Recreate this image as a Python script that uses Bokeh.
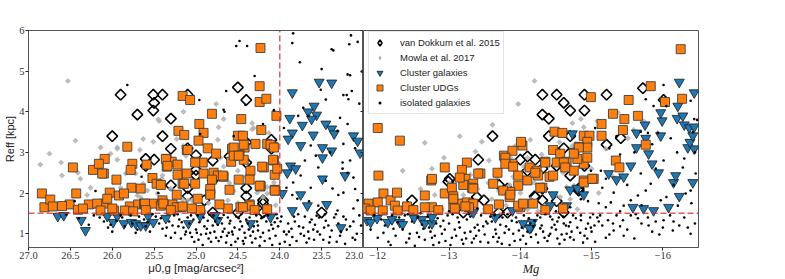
from math import pi
from bokeh.plotting import figure
from bokeh.layouts import row
from bokeh.models import (Range1d, FixedTicker, LinearAxis, Legend, LegendItem,
                          CustomJSTickFormatter, NumeralTickFormatter, Span)
from bokeh.embed import file_html
from bokeh.resources import INLINE

# ---------------- data ----------------
# (mu_0g, R_eff) for the left panel, (M_g, R_eff) for the right panel
vdk_left = [(25.90, 4.42), (25.51, 4.42), (25.40, 4.42), (25.10, 4.42), (25.50, 4.22), (25.51, 4.03),
            (25.70, 3.93), (25.30, 3.83), (24.50, 4.60), (24.40, 4.29), (26.00, 3.40), (25.40, 3.40),
            (24.10, 3.31), (24.40, 3.25), (25.30, 3.09), (24.10, 3.09), (25.10, 3.10), (25.60, 2.84),
            (25.50, 2.82), (25.60, 2.67), (25.00, 2.93), (24.60, 2.90), (24.80, 2.80), (24.40, 2.75),
            (25.00, 2.57), (25.00, 2.43), (24.80, 2.31), (25.30, 2.19), (25.10, 2.12), (24.40, 2.12),
            (25.10, 1.92), (24.40, 1.92), (24.90, 1.82), (24.20, 1.82), (24.20, 1.74), (24.80, 1.52),
            (24.50, 1.52), (24.20, 1.52), (23.50, 1.52)]
vdk_right = [(-14.31, 4.42), (-14.51, 4.42), (-14.61, 4.22), (-14.70, 4.03), (-14.90, 4.42), (-14.90, 4.03),
             (-15.21, 4.42), (-14.31, 3.93), (-14.40, 3.83), (-15.72, 4.58), (-16.01, 4.29), (-14.40, 3.40),
             (-14.70, 3.40), (-15.41, 3.35), (-13.61, 3.40), (-13.41, 2.82), (-14.00, 2.82), (-14.10, 2.90),
             (-14.21, 2.82), (-14.10, 2.55), (-14.31, 2.60), (-14.61, 3.10), (-14.51, 2.67), (-14.70, 2.43),
             (-14.90, 2.67), (-13.01, 2.35), (-13.70, 2.20), (-13.82, 2.11), (-14.31, 2.11), (-13.39, 1.90),
             (-13.49, 1.82), (-14.21, 1.90), (-14.82, 2.11), (-13.20, 1.52), (-13.70, 1.52), (-13.82, 1.52),
             (-14.51, 1.80), (-14.61, 1.52), (-12.48, 1.82), (-12.99, 2.28), (-14.82, 2.06), (-15.21, 3.19),
             (-14.31, 1.82), (-14.20, 1.92)]

mowla_left = [(26.53, 4.76), (25.15, 4.00), (25.45, 3.81), (26.44, 3.29), (25.63, 3.33), (25.51, 3.26),
              (25.67, 3.06), (25.94, 3.12), (25.94, 2.82), (25.23, 3.33), (25.15, 3.16), (25.44, 3.77),
              (24.74, 3.31), (24.43, 3.48), (24.31, 3.60), (24.76, 4.19), (24.67, 3.82), (24.73, 3.62),
              (24.33, 3.72), (24.33, 3.57), (24.13, 3.48), (25.84, 2.48), (25.40, 2.43), (24.71, 2.87),
              (24.67, 2.65), (24.50, 2.55), (24.83, 2.31), (24.07, 2.26), (24.15, 1.99), (24.27, 2.01),
              (24.62, 1.82), (24.74, 1.69), (24.95, 1.65), (25.10, 1.82), (25.66, 1.89), (26.02, 1.89),
              (26.86, 2.70), (26.75, 2.97), (26.61, 2.75), (26.60, 2.43), (26.38, 2.35), (26.41, 2.50),
              (26.26, 2.60), (26.26, 2.13), (26.14, 3.12), (26.02, 2.97), (25.94, 3.09), (25.90, 2.13),
              (25.72, 2.48), (25.70, 1.94), (25.63, 2.23), (25.58, 2.06), (25.46, 1.99), (25.41, 2.35),
              (25.30, 2.11), (25.18, 2.35), (25.16, 1.84), (25.05, 1.82), (25.12, 2.92), (24.30, 1.60),
              (24.60, 1.60), (24.90, 1.55), (25.20, 1.60), (24.20, 1.90), (24.50, 1.75), (24.80, 2.00),
              (25.00, 2.20), (24.40, 2.40), (24.60, 2.25), (24.15, 2.15), (24.35, 1.55), (24.05, 1.70),
              (24.55, 2.05), (24.85, 1.75), (25.35, 1.70), (25.55, 1.62), (25.80, 1.70), (26.10, 1.72),
              (26.30, 1.95), (24.25, 2.70), (24.95, 2.70), (24.55, 3.05)]
mowla_right = [(-13.97, 4.19), (-14.20, 4.76), (-13.61, 3.68), (-13.46, 3.26), (-13.37, 3.02), (-12.93, 2.87),
               (-13.56, 2.80), (-13.93, 3.16), (-14.14, 3.31), (-14.73, 3.72), (-15.08, 3.77), (-14.73, 3.16),
               (-12.76, 2.60), (-13.68, 2.38), (-13.86, 2.87), (-14.10, 2.87), (-14.85, 3.82), (-14.89, 3.62),
               (-15.37, 3.98), (-15.55, 4.26), (-15.73, 3.77), (-15.59, 3.55), (-15.93, 3.48), (-15.51, 3.35),
               (-15.20, 3.09), (-14.75, 2.18), (-14.56, 1.90), (-13.20, 1.95), (-13.40, 2.10), (-13.60, 1.85),
               (-13.80, 1.70), (-14.00, 2.00), (-14.20, 2.25), (-14.40, 2.40), (-14.60, 2.50), (-13.90, 2.40),
               (-13.50, 1.60), (-13.70, 2.05), (-14.10, 1.60), (-14.35, 1.70), (-14.50, 1.95), (-14.70, 1.85),
               (-14.90, 2.30), (-15.00, 2.60), (-14.30, 2.95), (-14.55, 3.25), (-13.30, 2.45), (-13.00, 2.25),
               (-12.80, 1.95), (-12.60, 2.10), (-12.45, 1.70), (-12.90, 1.60), (-13.10, 1.75), (-13.95, 1.58),
               (-14.25, 1.55), (-14.80, 1.60), (-15.10, 2.00), (-15.30, 2.40), (-14.05, 2.65), (-13.75, 2.95),
               (-13.15, 3.40), (-12.66, 3.24), (-12.35, 2.55), (-13.55, 2.25), (-14.65, 2.15), (-14.15, 1.85),
               (-13.85, 2.20)]

cluster_left = [(26.65, 1.43), (26.58, 1.45), (26.37, 1.33), (26.32, 1.08), (26.06, 1.43), (25.99, 1.28),
                (25.94, 1.43), (25.86, 1.25), (25.77, 1.28), (25.72, 1.25), (25.66, 1.20), (25.60, 1.20),
                (25.57, 1.43), (25.51, 1.28), (25.36, 1.38), (25.09, 1.25), (24.95, 1.43), (24.74, 1.33),
                (24.35, 1.25), (24.11, 1.40), (23.85, 4.47), (23.53, 4.73), (23.38, 4.71), (23.88, 3.84),
                (23.85, 3.48), (23.90, 3.33), (23.73, 3.67), (23.66, 4.00), (23.59, 4.14), (23.56, 3.92),
                (23.62, 3.82), (23.60, 3.43), (23.45, 3.70), (23.38, 3.58), (23.35, 3.46), (23.12, 3.41),
                (23.07, 3.28), (23.75, 3.17), (23.49, 3.12), (23.38, 3.04), (23.49, 2.87), (23.87, 2.67),
                (23.81, 2.60), (23.91, 2.50), (23.04, 2.99), (23.22, 2.43), (23.49, 2.35), (23.97, 1.99),
                (23.75, 1.96), (23.67, 1.69), (23.44, 1.72), (23.85, 1.57), (23.27, 1.15), (24.77, 1.45)]
cluster_right = [(-11.85, 1.33), (-11.90, 1.28), (-11.99, 1.38), (-12.14, 1.28), (-12.20, 1.35), (-12.31, 1.28),
                 (-12.35, 1.23), (-12.51, 1.38), (-12.62, 1.35), (-12.66, 1.25), (-12.76, 1.25), (-12.76, 1.40),
                 (-13.34, 1.52), (-13.65, 1.40), (-13.89, 1.57), (-14.04, 1.25), (-14.15, 1.15), (-14.17, 1.28),
                 (-14.46, 1.96), (-14.65, 1.69), (-14.70, 2.08), (-14.80, 2.12), (-14.89, 1.96), (-15.58, 1.65),
                 (-15.73, 1.62), (-15.87, 1.57), (-16.08, 1.65), (-16.23, 1.92), (-16.15, 2.26), (-16.42, 2.26),
                 (-15.63, 3.12), (-15.80, 2.97), (-15.85, 2.72), (-15.55, 2.67), (-15.24, 2.48), (-15.35, 2.33),
                 (-15.45, 2.40), (-15.94, 2.50), (-16.18, 2.43), (-16.35, 3.12), (-16.44, 3.09), (-16.38, 3.25),
                 (-14.42, 1.69), (-14.13, 1.13), (-16.23, 4.73), (-16.44, 4.47), (-16.21, 4.14), (-15.97, 3.98),
                 (-15.99, 3.78), (-15.75, 3.68), (-16.20, 3.84), (-16.28, 3.90), (-16.30, 3.68), (-16.37, 3.61),
                 (-16.44, 3.63), (-16.42, 3.41), (-15.97, 3.41), (-15.63, 3.48), (-15.76, 3.35), (-14.73, 3.46)]

udg_left = [(25.16, 4.39), (25.07, 4.29), (25.21, 3.53), (25.14, 3.43), (24.96, 3.70), (24.23, 5.57),
            (24.24, 4.63), (24.24, 4.24), (24.16, 4.32), (24.81, 3.95), (24.46, 3.82), (24.04, 3.90),
            (24.22, 3.55), (24.50, 3.41), (24.44, 3.41), (24.91, 3.48), (24.97, 3.29), (24.29, 3.21),
            (24.15, 3.21), (24.08, 3.14), (24.42, 3.12), (24.57, 3.09), (25.11, 3.06), (24.86, 3.10),
            (24.76, 2.97), (25.82, 3.14), (26.09, 2.84), (25.76, 2.72), (25.78, 2.57), (26.10, 2.48),
            (25.35, 2.84), (25.29, 2.77), (25.35, 2.65), (25.22, 2.70), (25.22, 2.45), (25.11, 2.48),
            (25.00, 2.77), (24.92, 2.75), (24.91, 2.48), (24.79, 2.50), (24.74, 2.43), (24.67, 2.40),
            (24.55, 2.92), (24.48, 2.94), (24.58, 2.77), (24.43, 2.82), (24.35, 2.55), (24.19, 2.63),
            (24.07, 2.80), (24.06, 2.45), (24.03, 2.60), (25.95, 2.33), (25.77, 2.13), (25.66, 2.11),
            (25.52, 2.37), (25.47, 2.23), (25.42, 2.20), (25.16, 2.23), (24.83, 1.99), (24.60, 2.08),
            (24.49, 2.33), (24.36, 2.33), (24.23, 2.18), (24.06, 2.08), (25.23, 1.96), (24.98, 1.86),
            (24.36, 1.72), (26.03, 2.01), (25.92, 1.94), (25.86, 1.99), (26.10, 1.74), (25.98, 1.57),
            (25.79, 1.67), (25.69, 1.72), (25.62, 1.74), (25.51, 1.74), (25.42, 1.69), (25.40, 1.82),
            (25.28, 1.72), (25.18, 1.65), (24.83, 2.10), (24.47, 1.65), (24.36, 1.69), (24.05, 2.06),
            (24.23, 2.16), (26.84, 1.99), (26.81, 1.65), (26.74, 1.84), (26.71, 1.67), (26.47, 2.63),
            (26.43, 1.99), (26.51, 1.72), (26.41, 1.59), (26.28, 1.72), (26.23, 2.57), (26.16, 2.72),
            (26.12, 2.48), (26.18, 1.74), (26.06, 1.86), (26.14, 1.57), (25.85, 1.57), (25.61, 1.74),
            (25.59, 2.70), (25.39, 1.74), (25.36, 2.84), (25.34, 2.67), (25.23, 1.65), (25.16, 1.67),
            (25.14, 2.23), (25.10, 3.06), (25.01, 2.75), (25.01, 2.23), (24.55, 3.12), (24.43, 3.19),
            (24.11, 3.19), (24.07, 3.12), (24.68, 2.43), (24.55, 2.92), (24.49, 2.92), (24.21, 2.65),
            (24.08, 2.82), (24.83, 1.96), (24.24, 2.18), (24.06, 2.06), (24.44, 1.65), (24.81, 2.33),
            (24.62, 1.62), (24.95, 1.58), (25.30, 1.58), (25.05, 1.62), (24.72, 1.72), (24.30, 1.58),
            (24.15, 1.60), (25.60, 1.58), (26.00, 1.62), (25.75, 1.55), (26.35, 1.62), (26.60, 1.68)]
udg_right = [(-12.00, 3.60), (-12.31, 3.29), (-12.01, 2.43), (-12.08, 1.99), (-11.87, 1.74), (-11.82, 1.62),
             (-12.00, 1.77), (-12.18, 1.82), (-12.27, 2.01), (-12.24, 1.69), (-12.41, 1.67), (-12.07, 1.57),
             (-12.28, 1.57), (-11.90, 1.57), (-12.66, 1.94), (-12.76, 1.65), (-12.66, 1.65), (-12.75, 2.31),
             (-12.94, 1.99), (-12.94, 2.63), (-13.04, 2.13), (-13.06, 1.65), (-13.18, 1.74), (-13.25, 2.75),
             (-13.18, 2.57), (-13.23, 2.35), (-13.25, 1.77), (-13.34, 2.23), (-13.34, 1.74), (-13.44, 2.48),
             (-13.68, 2.50), (-13.77, 2.92), (-13.89, 2.72), (-14.03, 3.17), (-14.99, 4.36), (-14.48, 3.51),
             (-14.59, 3.48), (-14.89, 3.41), (-14.97, 3.41), (-14.94, 3.26), (-14.01, 3.26), (-14.46, 3.06),
             (-14.56, 2.97), (-14.82, 3.14), (-14.76, 2.99), (-14.94, 3.12), (-13.89, 3.04), (-13.79, 2.87),
             (-13.79, 2.72), (-13.90, 2.65), (-13.97, 2.43), (-14.13, 2.63), (-14.23, 2.55), (-14.35, 2.77),
             (-14.51, 2.75), (-14.65, 2.77), (-14.75, 2.55), (-14.89, 2.72), (-14.89, 2.31), (-15.03, 2.35),
             (-14.41, 2.40), (-14.25, 2.43), (-14.10, 2.31), (-13.97, 2.18), (-13.86, 2.03), (-13.76, 2.06),
             (-13.62, 2.23), (-13.32, 2.13), (-13.20, 2.20), (-13.15, 2.38), (-13.41, 2.48), (-13.06, 1.92),
             (-13.28, 1.65), (-13.85, 1.90), (-14.00, 1.65), (-14.18, 1.74), (-12.76, 2.35), (-13.06, 1.86),
             (-13.08, 1.62), (-13.23, 1.67), (-13.34, 2.11), (-13.86, 1.96), (-13.97, 1.69), (-14.04, 1.74),
             (-14.31, 2.13), (-14.89, 2.26), (-16.25, 5.54), (-15.83, 4.63), (-16.03, 4.24), (-16.27, 4.32),
             (-15.52, 4.29), (-15.30, 3.95), (-15.46, 3.82), (-15.65, 3.90), (-15.14, 3.70), (-15.44, 3.55),
             (-15.14, 3.41), (-15.76, 3.19), (-15.34, 2.80), (-15.39, 2.63), (-14.80, 2.84), (-14.94, 2.87),
             (-15.01, 2.35), (-14.82, 3.12), (-14.75, 2.97), (-14.35, 2.75), (-14.46, 2.43), (-14.21, 2.50),
             (-14.28, 2.13), (-14.61, 2.75), (-14.63, 2.63), (-13.55, 1.60), (-13.70, 1.72), (-12.50, 1.58),
             (-12.85, 1.58), (-14.60, 1.62), (-14.35, 1.58)]

iso_left = [(23.84, 5.93), (23.85, 5.69), (24.48, 5.74), (24.52, 5.62), (24.39, 5.62), (23.76, 5.22),
            (23.38, 5.54), (23.36, 5.51), (23.17, 5.66), (23.50, 5.05), (23.19, 4.92), (23.16, 4.90),
            (23.02, 4.99), (24.30, 4.88), (24.64, 4.51), (23.51, 4.54), (23.24, 4.41), (23.20, 4.41),
            (23.14, 4.51), (23.18, 4.31), (24.41, 4.17), (23.72, 4.10), (23.66, 3.90), (24.07, 4.04),
            (24.66, 4.00), (23.78, 3.90), (23.31, 3.53), (23.19, 3.70), (23.15, 5.88), (23.07, 5.72),
            (25.82, 4.66), (24.96, 4.29), (24.67, 4.05), (23.63, 3.17), (23.24, 3.21), (23.57, 2.92),
            (23.54, 2.63), (23.25, 2.75), (23.16, 2.80), (23.19, 2.50), (23.12, 2.38), (23.75, 2.43),
            (23.84, 2.26), (23.92, 2.13), (23.63, 2.13), (23.37, 2.11), (23.24, 2.01), (23.07, 1.82),
            (23.54, 1.69), (23.79, 1.86), (23.31, 1.57), (23.12, 1.62), (24.55, 3.40), (24.20, 3.70),
            (25.45, 2.00), (25.65, 2.40), (24.95, 3.45), (26.20, 2.05), (26.45, 1.80),
            (23.05, 1.45), (23.12, 1.30), (23.20, 1.10), (23.28, 0.95), (23.35, 1.40), (23.42, 1.20),
            (23.48, 0.85), (23.55, 1.05), (23.62, 1.35), (23.68, 0.78), (23.72, 1.15), (23.78, 1.48),
            (23.85, 0.92), (23.90, 1.25), (23.95, 1.05), (24.00, 0.75), (24.03, 1.38), (24.08, 1.12),
            (24.12, 0.88), (24.16, 1.30), (24.20, 1.02), (24.24, 0.70), (24.28, 1.45), (24.31, 1.18),
            (24.35, 0.95), (24.40, 1.35), (24.44, 0.82), (24.48, 1.10), (24.52, 1.42), (24.56, 0.98),
            (24.60, 1.25), (24.64, 0.78), (24.68, 1.05), (24.72, 1.38), (24.76, 0.90), (24.80, 1.20),
            (24.84, 1.47), (24.88, 1.00), (24.92, 0.72), (24.96, 1.28), (25.00, 1.10), (25.05, 0.92),
            (25.10, 1.40), (25.15, 1.15), (25.20, 1.35), (25.25, 1.02), (25.32, 1.30), (25.40, 1.12),
            (25.48, 1.42), (25.55, 1.05), (25.62, 1.35), (25.70, 1.10), (25.78, 1.45), (25.85, 1.18),
            (25.95, 1.32), (26.05, 1.15), (26.15, 1.40), (26.28, 1.22), (26.40, 1.38), (26.55, 1.47),
            (23.08, 1.00), (23.16, 1.18), (23.24, 1.42), (23.32, 0.80), (23.38, 1.08), (23.45, 1.32),
            (23.52, 0.98), (23.58, 1.22), (23.65, 0.88), (23.75, 1.00), (23.82, 1.30), (23.88, 0.72),
            (23.98, 1.42), (24.05, 0.95), (24.10, 1.22), (24.18, 0.82), (24.22, 1.38), (24.26, 1.08),
            (24.33, 0.78), (24.38, 1.25), (24.42, 1.02), (24.46, 1.48), (24.50, 0.88), (24.54, 1.15),
            (24.58, 0.72), (24.62, 1.40), (24.66, 1.12), (24.70, 0.92), (24.74, 1.22), (24.78, 1.05),
            (24.82, 0.80), (24.86, 1.32), (24.90, 1.18), (24.94, 0.98), (24.98, 1.45), (25.02, 0.80),
            (25.08, 1.25), (25.12, 1.05), (25.18, 0.88), (25.22, 1.48), (25.28, 1.20), (25.36, 0.95),
            (25.44, 1.25), (25.52, 1.48), (25.60, 1.18), (25.68, 1.42), (25.76, 1.25), (25.90, 1.45),
            (26.00, 1.05), (26.10, 1.30), (23.10, 0.85), (23.22, 0.75), (23.30, 1.25), (23.40, 0.92),
            (23.46, 1.48), (23.60, 1.10), (23.70, 1.42), (23.80, 0.82), (23.92, 0.98), (24.02, 1.18),
            (24.14, 1.45), (24.29, 0.88), (24.37, 1.10), (24.47, 1.30), (24.57, 1.05), (24.67, 1.46),
            (24.77, 1.30), (24.87, 1.12), (24.97, 0.85), (25.07, 1.02), (25.17, 1.28), (25.26, 1.45),
            (25.35, 1.15), (23.56, 1.44), (23.66, 1.05), (23.86, 1.12), (24.06, 1.28), (24.26, 1.20),
            (24.43, 0.75), (24.63, 0.95), (24.83, 1.02), (25.03, 1.35),
            (23.03, 1.20), (23.13, 0.90), (23.21, 1.35), (23.27, 1.05), (23.33, 1.48), (23.41, 0.78),
            (23.47, 1.15), (23.53, 1.40), (23.59, 0.85), (23.64, 1.28), (23.71, 0.95), (23.77, 1.18),
            (23.83, 1.42), (23.89, 1.05), (23.94, 0.80), (23.99, 1.30), (24.04, 1.48), (24.09, 0.72),
            (24.13, 1.08), (24.19, 1.42), (24.23, 0.92), (24.27, 1.30), (24.32, 1.05), (24.36, 1.40),
            (24.41, 0.90), (24.45, 1.18), (24.49, 1.38), (24.53, 0.80), (24.59, 1.32), (24.61, 1.02),
            (24.69, 1.25), (24.73, 0.82), (24.79, 1.45), (24.85, 0.88), (24.91, 1.40), (24.99, 1.02),
            (25.06, 1.45), (25.13, 0.98), (25.21, 1.18), (25.30, 0.90), (25.42, 1.38), (25.58, 1.28),
            (25.72, 1.02), (25.88, 1.40), (26.02, 1.22), (26.22, 1.45), (23.10, 2.10), (23.30, 1.95),
            (23.45, 2.30), (23.65, 1.80), (23.85, 1.95), (23.25, 2.60), (23.40, 3.00), (23.10, 3.10),
            (23.70, 2.80), (23.95, 3.60), (23.28, 3.85), (23.05, 4.20), (23.45, 4.30)]
iso_right = [(-16.01, 4.66), (-15.76, 4.31), (-16.39, 4.27), (-15.87, 4.14), (-16.05, 4.14), (-16.44, 3.82),
             (-16.48, 3.80), (-15.69, 3.51), (-15.79, 3.48), (-15.93, 3.48), (-16.11, 3.35), (-16.42, 3.50),
             (-15.15, 2.13), (-15.31, 2.01), (-15.27, 1.77), (-15.20, 1.65), (-15.45, 1.69), (-15.55, 1.82),
             (-15.65, 1.94), (-15.76, 2.06), (-15.83, 2.23), (-15.97, 1.82), (-16.21, 1.69), (-16.32, 1.99),
             (-16.39, 2.06), (-16.46, 2.48), (-16.28, 2.63), (-16.01, 2.80), (-15.69, 2.48), (-15.13, 2.55),
             (-14.99, 2.55), (-15.08, 1.40), (-15.23, 1.33), (-15.31, 1.08), (-15.44, 1.33), (-15.65, 1.38),
             (-15.79, 1.40), (-16.01, 1.33), (-16.23, 1.20), (-16.39, 1.00), (-16.14, 1.08), (-14.85, 1.33),
             (-14.99, 1.15), (-14.61, 1.25), (-14.42, 1.00), (-14.28, 1.13), (-14.70, 0.91), (-14.52, 0.88),
             (-15.60, 3.00), (-16.20, 3.00), (-15.40, 2.95), (-15.05, 3.60), (-15.25, 3.10), (-16.30, 2.85),
             (-11.90, 1.10), (-12.00, 0.90), (-12.10, 1.20), (-12.20, 1.45), (-12.25, 0.95), (-12.35, 1.10),
             (-12.40, 0.78), (-12.48, 1.30), (-12.55, 1.02), (-12.60, 1.50), (-12.66, 0.85), (-12.72, 1.15),
             (-12.78, 0.72), (-12.84, 1.38), (-12.90, 1.00), (-12.95, 0.82), (-13.00, 1.25), (-13.05, 1.48),
             (-13.10, 0.95), (-13.15, 1.15), (-13.20, 0.75), (-13.25, 1.35), (-13.30, 1.05), (-13.35, 0.88),
             (-13.40, 1.22), (-13.45, 1.45), (-13.50, 0.98), (-13.55, 0.78), (-13.60, 1.30), (-13.65, 1.10),
             (-13.70, 0.90), (-13.75, 1.40), (-13.80, 1.18), (-13.85, 0.72), (-13.90, 1.00), (-13.95, 1.28),
             (-14.00, 0.85), (-14.05, 1.45), (-14.10, 1.05), (-14.15, 0.92), (-14.20, 1.32), (-14.25, 0.78),
             (-14.30, 1.20), (-14.35, 1.48), (-14.40, 0.95), (-14.45, 1.35), (-14.50, 1.10), (-14.55, 0.75),
             (-14.60, 1.42), (-14.65, 1.00), (-14.70, 1.28), (-14.75, 0.85), (-14.80, 1.15), (-14.85, 1.45),
             (-14.90, 0.95), (-14.95, 1.25), (-15.00, 1.05), (-15.05, 0.80), (-15.15, 1.20), (-15.25, 0.98),
             (-15.35, 1.45), (-15.50, 1.10), (-15.60, 0.88), (-15.70, 1.25), (-15.85, 1.05), (-16.00, 1.15),
             (-16.30, 1.40), (-16.45, 1.25), (-12.05, 1.35), (-12.15, 0.80), (-12.30, 1.40), (-12.45, 1.00),
             (-12.52, 0.70), (-12.62, 1.22), (-12.70, 1.42), (-12.80, 0.95), (-12.88, 1.18), (-12.98, 1.45),
             (-13.08, 1.10), (-13.18, 0.85), (-13.28, 1.48), (-13.38, 0.95), (-13.48, 1.18), (-13.58, 1.42),
             (-13.68, 0.80), (-13.78, 1.02), (-13.88, 1.32), (-13.98, 1.08), (-14.08, 0.75), (-14.18, 1.18),
             (-14.28, 1.40), (-14.38, 0.82), (-14.48, 1.22), (-14.58, 0.98), (-14.68, 1.18), (-14.78, 1.38),
             (-14.88, 0.78), (-14.98, 1.40), (-15.10, 1.30), (-15.20, 0.90), (-15.40, 1.18), (-15.55, 1.45),
             (-15.90, 1.30), (-16.10, 1.45), (-12.22, 1.12), (-12.42, 1.48), (-12.58, 0.92), (-12.74, 1.05),
             (-12.92, 1.32), (-13.02, 0.72), (-13.12, 1.40), (-13.22, 1.02), (-13.32, 0.78), (-13.42, 1.08),
             (-13.52, 1.30), (-13.62, 0.92), (-13.72, 1.22), (-13.82, 1.48), (-13.92, 0.82), (-14.02, 1.15),
             (-14.12, 1.38), (-14.22, 0.98), (-14.32, 1.05), (-14.42, 1.42), (-14.52, 1.30), (-14.62, 0.85),
             (-14.72, 1.05), (-14.92, 1.12), (-15.02, 1.48), (-13.00, 1.55), (-13.40, 1.62), (-14.50, 1.55),
             (-14.70, 1.65), (-14.95, 1.80),
             (-11.95, 1.45), (-12.08, 1.02), (-12.18, 0.72), (-12.28, 1.28), (-12.38, 1.45), (-12.44, 0.88),
             (-12.56, 1.40), (-12.64, 1.12), (-12.76, 0.90), (-12.82, 1.25), (-12.86, 0.78), (-12.94, 1.10),
             (-13.04, 0.90), (-13.14, 1.28), (-13.24, 0.88), (-13.30, 1.42), (-13.36, 1.15), (-13.44, 0.80),
             (-13.54, 1.25), (-13.64, 1.45), (-13.66, 1.00), (-13.74, 0.75), (-13.84, 1.10), (-13.94, 1.40),
             (-14.04, 0.95), (-14.14, 1.25), (-14.24, 1.45), (-14.34, 0.90), (-14.44, 1.15), (-14.54, 1.40),
             (-14.64, 1.20), (-14.74, 1.45), (-14.84, 1.02), (-14.94, 0.88), (-15.04, 1.20), (-15.12, 1.45),
             (-15.30, 1.25), (-15.45, 0.95), (-15.62, 1.48), (-15.80, 1.20), (-15.95, 0.98), (-16.15, 1.30),
             (-16.35, 1.15), (-15.10, 1.75), (-15.40, 1.55), (-15.70, 1.70), (-16.05, 1.90), (-16.40, 1.75),
             (-15.50, 2.20), (-15.90, 2.60), (-16.15, 2.20), (-14.85, 1.85), (-15.20, 2.35), (-15.85, 3.20),
             (-16.45, 3.00), (-15.35, 3.40)]

mu_ticks = [27.0, 26.5, 26.0, 25.5, 25.0, 24.5, 24.0, 23.5, 23.0]
mg_ticks = [-12, -13, -14, -15, -16]
reff_ticks = [1, 2, 3, 4, 5, 6]
mu_range = (27.0, 23.0)
mg_range = (-11.8, -16.5)
reff_range = (0.66, 6.0)
mu_cut = 24.0      # UDG surface-brightness threshold
reff_cut = 1.5     # UDG size threshold

legend_labels = ["van Dokkum et al. 2015", "Mowla et al. 2017", "Cluster galaxies",
                 "Cluster UDGs", "isolated galaxies"]
x_title_left = "\u03bc0,g [mag/arcsec\u00b2]"
x_title_right = "Mg"
y_title = "Reff [kpc]"


def xy(pairs):
    xs, ys = zip(*pairs)
    return list(xs), list(ys)


AX_COL = "#555555"
RED = "#d62728"
SANS = "Liberation Sans"
SERIF = "Liberation Serif"

FRAME_W = 335
B_LEFT, B_TOP, B_BOTTOM = 28, 30, 32
H = 279
common = dict(output_backend="svg", toolbar_location=None, height=H,
              min_border_top=B_TOP, min_border_bottom=B_BOTTOM)
p1 = figure(width=B_LEFT + FRAME_W, x_range=Range1d(*mu_range), y_range=Range1d(*reff_range),
            min_border_left=B_LEFT, min_border_right=0, **common)
p2 = figure(width=FRAME_W + 10, x_range=Range1d(*mg_range), y_range=p1.y_range, y_axis_location=None,
            min_border_left=0, min_border_right=10, **common)


def style(p):
    p.grid.visible = False
    p.outline_line_color = AX_COL
    p.outline_line_width = 1
    for ax in p.axis:
        ax.axis_line_color = AX_COL
        ax.major_tick_line_color = "#222222"
        ax.major_tick_out = 3
        ax.major_tick_in = 0
        ax.minor_tick_out = 0
        ax.minor_tick_in = 0
        ax.major_label_text_font = SERIF
        ax.major_label_text_font_size = "10.5px"
        ax.major_label_text_color = "#333333"
        ax.major_label_standoff = 1
        ax.axis_label_text_color = "#222222"
        ax.axis_label_standoff = 0


style(p1)
style(p2)
p1.xaxis.ticker = FixedTicker(ticks=mu_ticks)
p1.xaxis.formatter = NumeralTickFormatter(format="0.0")
p1.xaxis.axis_label = x_title_left
p1.xaxis.axis_label_text_font = SANS
p1.xaxis.axis_label_text_font_style = "normal"
p1.xaxis.axis_label_text_font_size = "11.5px"
p1.yaxis.ticker = FixedTicker(ticks=reff_ticks)
p1.yaxis.major_label_standoff = 1
p1.yaxis.axis_label = y_title
p1.yaxis.axis_label_text_font = SANS
p1.yaxis.axis_label_text_font_style = "normal"
p1.yaxis.axis_label_text_font_size = "11px"
p2.xaxis.ticker = FixedTicker(ticks=mg_ticks)
p2.xaxis.formatter = CustomJSTickFormatter(
    code="return (tick < 0 ? '\\u2212' : '') + Math.abs(tick).toFixed(0);")
p2.xaxis.axis_label = x_title_right
p2.xaxis.axis_label_text_font = SERIF
p2.xaxis.axis_label_text_font_style = "italic"
p2.xaxis.axis_label_text_font_size = "12.5px"

rax = LinearAxis(ticker=FixedTicker(ticks=reff_ticks),
                 formatter=CustomJSTickFormatter(code="return '';"),
                 major_tick_in=3, major_tick_out=0, minor_tick_in=0, minor_tick_out=0,
                 major_label_standoff=0, axis_line_color=AX_COL,
                 major_tick_line_color="#222222")
p1.add_layout(rax, "right")


def draw(p, vdk, mowla, cluster, udg, iso):
    x, y = xy(vdk)
    r_vdk = p.scatter(x, y, marker="square", angle=pi / 4, size=7.5, fill_color=None,
                      line_color="black", line_width=1.6)
    x, y = xy(mowla)
    r_mow = p.scatter(x, y, marker="square", angle=pi / 4, size=4.2, fill_color="#b0b0b0",
                      fill_alpha=0.85, line_color=None)
    x, y = xy(cluster)
    r_cl = p.scatter(x, y, marker="inverted_triangle", size=10, fill_color="#1f77b4",
                     line_color="#1a1a1a", line_width=0.8)
    x, y = xy(udg)
    r_udg = p.scatter(x, y, marker="square", size=9, fill_color="#ff7f0e",
                      line_color="#3a3a3a", line_alpha=0.85, line_width=1)
    x, y = xy(iso)
    r_iso = p.scatter(x, y, marker="circle", size=2.6, fill_color="black", line_color=None)
    return r_vdk, r_mow, r_cl, r_udg, r_iso


draw(p1, vdk_left, mowla_left, cluster_left, udg_left, iso_left)
_, _, r_cl2, r_udg2, _ = draw(p2, vdk_right, mowla_right, cluster_right, udg_right, iso_right)

# threshold lines
p1.line([mu_range[0], mu_cut, mu_cut], [reff_cut, reff_cut, reff_range[1]],
        line_color=RED, line_alpha=0.75, line_width=1.5, line_dash="6 3")
p2.add_layout(Span(location=reff_cut, dimension="width", line_color=RED, line_alpha=0.75,
                   line_width=1.5, line_dash="6 3"))

# legend key glyphs (one non-finite point each, so nothing shows in the plot area)
NAN = [float("nan")]
k_vdk = p2.scatter(NAN, NAN, marker="diamond", fill_color=None, line_color="black", line_width=1.6)
k_mow = p2.scatter(NAN, NAN, marker="diamond", fill_color="#b0b0b0", line_color="white", line_width=0.8)
k_iso = p2.scatter(NAN, NAN, marker="circle", fill_color="black", line_color="white", line_width=3)

ROW = 15
FRAME_H_EST = H - B_TOP - B_BOTTOM
legend = Legend(items=[LegendItem(label=legend_labels[0], renderers=[k_vdk]),
                       LegendItem(label=legend_labels[1], renderers=[k_mow]),
                       LegendItem(label=legend_labels[2], renderers=[r_cl2]),
                       LegendItem(label=legend_labels[3], renderers=[r_udg2]),
                       LegendItem(label=legend_labels[4], renderers=[k_iso])],
                location=(5, FRAME_H_EST - 3 - (5 * ROW + 6)), glyph_width=ROW, glyph_height=ROW,
                label_height=ROW, spacing=0, padding=3, margin=0, label_standoff=13,
                label_text_font=SANS, label_text_font_size="9.5px", label_text_color="#222222",
                border_line_color="#cccccc", border_line_width=1, background_fill_alpha=0.9)
p2.add_layout(legend)

layout = row(p1, p2)
open("out.html", "w").write(file_html(layout, INLINE))
